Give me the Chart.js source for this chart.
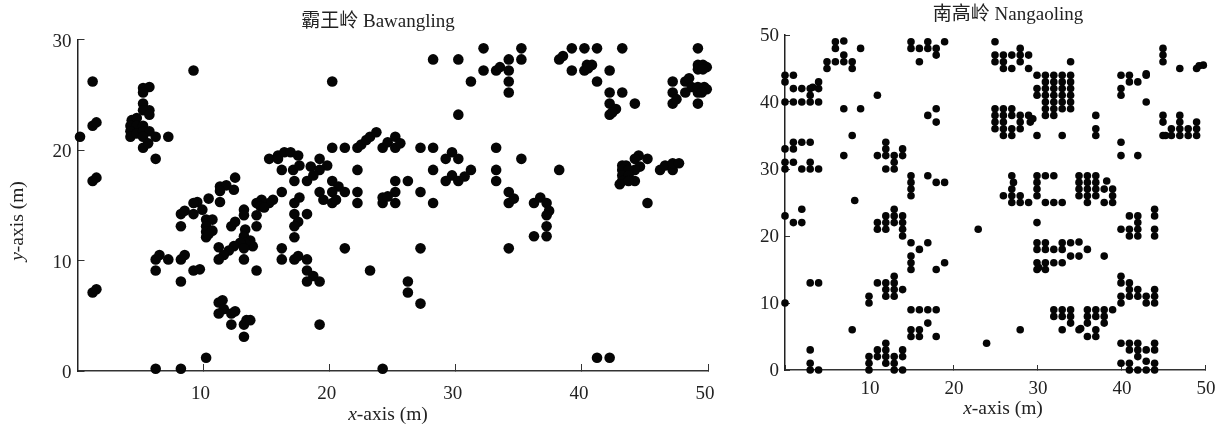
<!DOCTYPE html>
<html>
<head>
<meta charset="utf-8">
<script src="https://cdn.jsdelivr.net/npm/chart.js@4"></script>
<style>
    html, body { margin: 0; padding: 0; background: #fff; overflow: hidden; width: 1224px; height: 428px; }
    canvas { position: absolute; top: 0; }
    #grafico1 { left: 0; }
    #grafico2 { left: 740px; }
</style>
</head>
<body>
<canvas id="grafico1" width="756" height="428"></canvas>
<canvas id="grafico2" width="536" height="428"></canvas>
<script>
// Values, [x, y] in metres
var bawanglingPts = [
    [0.2,21.2],[1.2,26.2],[1.2,22.2],[1.5,22.5],[1.2,17.2],[1.5,17.5],[1.2,7.1],[1.5,7.4],
    [5.2,25.6],[5.7,25.7],[5.2,25.2],[5.2,24.2],[5.7,23.6],[5.2,23.6],[5.7,23.2],
    [4.3,22.7],[4.7,22.9],[4.2,22.2],[4.7,22.2],[4.2,21.7],[4.2,21.2],[4.7,21.5],[5.2,22.2],
    [5.2,21.7],[5.7,21.7],[5.2,21.2],[6.2,21.2],[7.2,21.2],[5.2,20.2],[5.6,20.6],[6.2,19.2],
    [9.2,27.2],[20.2,26.2],[20.2,20.2],[21.2,20.2],[22.2,20.2],[22.5,20.5],[22.9,20.9],[23.2,21.2],
    [23.7,21.6],[24.2,20.2],[24.6,20.7],[25.2,21.2],[25.2,20.2],[25.6,20.6],[27.2,20.2],[28.2,20.2],
    [29.7,19.8],[29.2,19.2],[30.2,19.2],[28.2,18.2],[31.2,18.2],[29.7,17.7],[29.2,17.2],[30.2,17.2],
    [30.7,17.6],[33.2,20.2],[35.2,19.2],[33.2,18.2],[33.2,17.2],[38.2,18.2],[34.2,16.2],[34.2,15.2],
    [34.6,15.6],[36.2,15.2],[36.7,15.7],[37.2,15.2],[37.4,14.5],[25.2,17.2],[26.2,17.2],[25.2,16.2],
    [27.2,16.2],[28.2,15.2],[24.2,15.2],[24.2,15.7],[24.6,15.8],[25.2,15.2],
    [28.2,28.2],[30.2,28.2],[32.2,29.2],[35.2,29.2],[35.2,28.2],[34.2,28.2],[32.2,27.2],[33.2,27.2],
    [33.5,27.5],[34.2,27.2],[31.2,26.2],[34.2,26.2],[34.2,25.2],[30.2,23.2],
    [38.2,28.2],[38.5,28.5],[39.2,29.2],[40.2,29.2],[41.2,29.2],[43.2,29.2],[39.2,27.2],[40.2,27.2],
    [40.4,27.7],[40.8,27.7],[40.5,27.4],[42.2,27.2],[41.2,26.2],[42.2,25.2],[43.2,25.2],[42.2,24.2],
    [44.2,24.2],[42.7,23.7],[42.2,23.2],[42.4,23.4],
    [49.2,29.2],[47.2,26.2],[47.2,25.2],[47.2,24.2],[47.5,24.6],[48.2,26.2],[48.5,26.5],[48.2,25.2],
    [48.7,25.7],[49.2,25.2],[49.2,24.2],[49.2,25.7],[49.7,25.7],[49.9,25.5],[49.5,25.2],[49.2,27.7],
    [49.6,27.7],[49.9,27.5],[49.2,27.3],[49.6,27.3],
    [45.2,19.2],[44.5,19.5],[44.2,19.2],[44.6,18.5],[43.2,18.6],[43.5,18.6],[43.2,18.2],[44.2,18.2],
    [43.7,18.2],[43.2,17.7],[43.7,17.7],[43.2,17.2],[43,16.9],[44.2,17.2],[43.7,17.2],[45.2,15.2],
    [46.2,18.2],[46.6,18.6],[47.2,18.2],[47.2,18.8],[47.7,18.8],
    [15.2,19.2],[15.9,19.5],[15.9,19.2],[16.4,19.8],[16.9,19.8],[16.2,18.2],[17.5,19.5],[17.1,18.2],[17.6,18.6],
    [18.5,18.5],[19.2,19.2],[19.8,18.6],[19.2,18.2],[18.2,17.2],[18.7,17.7],[17.2,17.2],[22.2,18.2],
    [22.2,16.2],[22.2,15.2],[16.2,16.2],[15.5,15.5],[15.2,15.2],[14.6,15.5],[14.2,15.2],[14.5,14.9],
    [14.8,14.8],[17.2,15.2],[17.6,15.7],[17.2,14.2],[18.2,14.2],[20.2,17.2],[19.2,16.2],[20.7,16.7],
    [21.2,16.2],[20.2,16.2],[19.5,15.5],[20.2,15.2],[20.5,15.5],
    [12.5,17.5],[11.3,16.7],[11.8,16.8],[12.4,16.4],[11.3,16.3],[11.3,15.3],[10.4,15.6],[9.5,15.3],
    [9.2,15.2],[9.2,14.2],[9.9,14.6],[8.2,14.2],[8.5,14.5],[8.2,13.1],
    [13.2,14.6],[13.2,14.1],[14.2,14.1],[12.2,13.1],[12.5,13.5],[14.2,13.1],[17.5,13.5],[17.2,13.1],
    [17.2,12.1],[10.2,13.7],[10.7,13.7],[10.2,13.1],[10.2,12.6],[10.7,12.7],[10.2,12.1],[10.4,12.4],
    [13.3,12.8],[13.2,12.2],[13.7,11.8],[13.9,11.3],[13.3,11.6],[12.9,11.6],[12.4,11.3],[13.2,11.1],
    [11.2,11.2],[12,10.9],[11.6,10.5],[11.2,10.1],[13.2,10.1],[14.2,9.1],[16.2,11.1],[16.2,10.1],
    [17.2,10.1],[17.5,10.4],[18.2,10.1],[18.2,9.1],[18.7,8.6],[18.2,8.1],[19.2,8.1],[21.2,11.1],[23.2,9.1],
    [6.2,10.1],[6.5,10.5],[7.2,10.1],[6.2,9.1],[8.2,10.1],[8.5,10.5],[9.2,9.1],[9.7,9.2],[8.2,8.1],
    [11.2,6.2],[11.5,6.4],[11.6,5.6],[11.2,5.2],[12.2,5.2],[12.5,5.4],[12.2,4.2],[13.2,4.2],[13.4,4.6],
    [13.7,4.6],[13.2,3.1],[19.2,4.2],[10.2,1.2],[6.2,0.2],[8.2,0.2],[24.2,0.2],
    [37.2,14.1],[37.2,13.1],[37.2,12.2],[36.2,12.2],[34.2,11.1],[27.2,11.1],[26.2,8.1],[26.2,7.1],
    [27.2,6.1],[41.2,1.2],[42.2,1.2]
];

var nangaolingPts = [
    [0,44],[1,44],[0,43],[4,43],[1,42],[2,42],[3,42],[4,42],[3.3,42.2],[3,41],[0,40],[1,40],[2,40],[3,40],[4,40],
    [1,34],[2,34],[3,34],[0,33],[1,33],[0,31],[1,31],[3,31],[0,30],[2,30],[3,30],[4,30],[2,24],[0,23],
    [6,49],[7,49.1],[6,48],[9,48],[7,47],[5,46],[6,46],[7,46],[8,46],[5,45],[8,45],
    [7,39],[9,39],[8,35],[7,32],[8.3,25.3],[11,41],
    [12,34],[12,33],[11,32],[12,32],[13,32],[14,33],[14,32],[13,31],[12,30],[13,30],
    [15,49],[15,48],[16,48],[17,49],[17,48],[18,48],[18,47],[19,49],[16,46],[18,39],[17,38],[18,37],
    [15,29],[15,28],[15,27],[15,26],[17,29],[18,28],[19,28],
    [1,22],[2,22],[11,22],[11,21],[12,23],[12,22],[12,21],[13,24],[13,23],[13,22],[14,23],[14,22],[14,21],[14,20],
    [15,19],[16,18],[17,19],[15,17],[15,16],[15,15],[18,15],[19,16],[23,21],
    [3,13],[4,13],[11,13],[12,13],[12,12],[12,11],[13,14],[13,13],[13,12],[13,11],[14,12],[10,11],[10,10],[0,10],[8,6],
    [15,9],[16,9],[17,9],[18,9],[15,6],[15,5],[16,6],[16,5],[17,7],[18,5],
    [3,3],[3,1],[3,0],[4,0],[12,4],[11,3],[12,3],[14,3],[10,2],[11,2],[12,2],[13,2],[14,2],[10,1],[12,1],[13,1],[10,0],[13,0],[14,0],
    [25,49],[25,47],[25,46],[26,47],[26,46],[26,45],[27,47],[27,45],[28,48],[28,47],[28,46],[29,47],[29,45],[34,46],
    [30,44],[31,44],[32,44],[33,44],[34,44],[31,43],[32,43],[33,43],[34,43],[30,42],[31,42],[32,42],[33,42],[34,42],
    [30,41],[31,41],[32,41],[33,41],[34,41],[31,40],[32,40],[33,40],[34,40],[31,39],[32,39],[33,39],[34,39],[31,38],[32,38],
    [25,39],[25,38],[25,37],[25,36],[26,39],[26,38],[26,37],[26,36],[26,35],[27,39],[27,38],[27,36],[27,35],
    [28,38],[28,37],[28,36],[29,38],[29.2,37],[29.5,37.5],[30,35],[33,35],[37,38],[37,36],[37,35],[40,34],[40,32],[42,32],
    [45,48],[45,47],[45,46],[47,45],[49,45],[49.3,45.4],[49.8,45.5],
    [40,44],[41,44],[43,44.2],[43,44],[41,43],[42,43],[40,42],[40,41],[43,40],
    [45,38],[45,37],[47,38],[47,37],[45,35],[45.3,35],[46,36],[46,35],[47,36],[47,35],[48,36],[48,35],[49,37],[49,36],[49,35],
    [27,29],[27.2,28],[27,27],[26,26],[27,26],[28,26],[27,25],[28,25],[29,25],
    [30,29],[31,29],[32,29],[30,28],[30,27],[30,26],[31,25],[32,25],[33,25],
    [35,29],[35,28],[35,27],[35,26],[36,29],[36,28],[36,27],[36,26],[37,29],[37,28],[37,27],[37,26],
    [38.3,28.2],[38,27],[39,27],[39,26],[39,25],[36,25],[38,25],
    [30,22],[30,19],[31,19],[30,18],[31,18],[32,18],[33,19],[33,18],[34,19],[35,19.1],[36,18],[34,17],[35,17],[38,17],
    [30,16],[31,16],[32,16],[33,16],[30,15],[31,15],[30.2,15.3],
    [41,23],[42,23],[44,24],[44,23],[42,22],[42,21],[41,21],[41,20],[42,20],[40,21],[44,21],[44,20],
    [40,14],[40,13],[41,13],[41,12],[42,12],[40,11],[41,11],[42,11],[43,11],[44,12],[44,11],[40,10],[43,10],[44,10],
    [32,9],[32,8],[33,9],[33,8],[34,9],[34,8],[34,7],[33,6],[28,6],[36,9],[37,9],[38,9],[39,9],[36,8],[37,8],[38,8],
    [36,7],[38,7],[37,6],[36,5],[37,5],[35.2,6.2],[35,6],[24,4],
    [40,4],[41,4],[42,4],[44,4],[41,3],[42,3],[43,3],[44,3],[42,2],[40,1],[41,1],[43,1.3],[44,1],[41,0],[42,0],[43,0],[44,0]
];

var xTicks = [0, 10, 20, 30, 40, 50];
var yTicksBawangling = [0, 10, 20, 30];
var yTicksNangaoling = [0, 10, 20, 30, 40, 50];

var FONT = '"Liberation Serif", "Noto Sans CJK SC", serif';

// Titles sit off the axis centre and axis labels have an italic first letter, so they are drawn here
var testiGrafico = {
    id: 'testiGrafico',
    afterDraw: function(chart, args, opts) {
        var ctx = chart.ctx;
        ctx.save();
        ctx.fillStyle = '#222';
        ctx.textBaseline = 'middle';
        ctx.textAlign = 'center';
        ctx.font = '19px ' + FONT;
        ctx.fillText(opts.titolo, opts.titoloPos[0], opts.titoloPos[1]);
        scriviEtichetta(ctx, 'x', '-axis (m)', opts.xPos[0], opts.xPos[1], 0);
        if (opts.yPos) {
            scriviEtichetta(ctx, 'y', '-axis (m)', opts.yPos[0], opts.yPos[1], -Math.PI / 2);
        }
        ctx.restore();
    }
};

function scriviEtichetta(ctx, lettera, resto, cx, cy, angolo) {
    ctx.save();
    ctx.translate(cx, cy);
    ctx.rotate(angolo);
    ctx.font = 'italic 19.5px ' + FONT;
    var l1 = ctx.measureText(lettera).width;
    ctx.font = '19.5px ' + FONT;
    var l2 = ctx.measureText(resto).width;
    ctx.textAlign = 'left';
    ctx.font = 'italic 19.5px ' + FONT;
    ctx.fillText(lettera, -(l1 + l2) / 2, 0);
    ctx.font = '19.5px ' + FONT;
    ctx.fillText(resto, -(l1 + l2) / 2 + l1, 0);
    ctx.restore();
}

function creaGrafico(id, titolo, punti, cfg) {
    var ctx = document.getElementById(id).getContext('2d');
    return new Chart(ctx, {
        type: 'scatter',
        data: {
            datasets: [{
                data: punti.map(function(p) { return { x: p[0], y: p[1] }; }),
                backgroundColor: '#050505',
                borderWidth: 0,
                pointRadius: cfg.raggio,
                clip: false
            }]
        },
        plugins: [testiGrafico],
        options: {
            responsive: false,
            animation: false,
            layout: { autoPadding: false, padding: { top: cfg.paddingTop, right: cfg.paddingRight } },
            plugins: {
                legend: { display: false },
                tooltip: { enabled: false },
                testiGrafico: { titolo: titolo, titoloPos: cfg.titoloPos, xPos: cfg.xPos, yPos: cfg.yPos }
            },
            scales: {
                x: {
                    type: 'linear',
                    min: 0,
                    max: 50,
                    afterBuildTicks: function(scale) {
                        scale.ticks = xTicks.map(function(v) { return { value: v }; });
                    },
                    afterFit: function(scale) { scale.height = cfg.altezzaX; },
                    border: { color: '#333', width: 1.5 },
                    grid: { drawOnChartArea: false, color: '#333', lineWidth: 1, tickLength: -cfg.tacca },
                    ticks: {
                        color: '#222',
                        padding: cfg.paddingX,
                        labelOffset: cfg.offsetX,
                        maxRotation: 0,
                        font: { family: FONT, size: 19 },
                        callback: function(v) { return v === 0 ? '' : v; }
                    }
                },
                y: {
                    type: 'linear',
                    min: 0,
                    max: cfg.yTicks[cfg.yTicks.length - 1],
                    afterBuildTicks: function(scale) {
                        scale.ticks = cfg.yTicks.map(function(v) { return { value: v }; });
                    },
                    afterFit: function(scale) { scale.width = cfg.larghezzaY; },
                    border: { color: '#222', width: 1.5 },
                    grid: { drawOnChartArea: false, color: '#333', lineWidth: 1, tickLength: -cfg.tacca },
                    ticks: {
                        color: '#222',
                        padding: cfg.tacca + 6,
                        labelOffset: cfg.offsetY,
                        font: { family: FONT, size: 19 }
                    }
                }
            }
        }
    });
}

creaGrafico('grafico1', '霸王岭 Bawangling', bawanglingPts, {
    raggio: 5.3,
    yTicks: yTicksBawangling,
    larghezzaY: 77.5,
    altezzaX: 57,
    paddingTop: 39.5,
    paddingRight: 48,
    paddingX: 19,
    offsetX: -3,
    offsetY: 2.5,
    tacca: 7,
    titoloPos: [378, 22],
    xPos: [388, 415],
    yPos: [18, 221]
});

creaGrafico('grafico2', '南高岭 Nangaoling', nangaolingPts, {
    raggio: 3.8,
    yTicks: yTicksNangaoling,
    larghezzaY: 45,
    altezzaX: 58,
    paddingTop: 35,
    paddingRight: 71,
    paddingX: 13,
    offsetX: 1,
    offsetY: 1,
    tacca: 5,
    titoloPos: [268, 15],
    xPos: [263, 409],
    yPos: null
});
</script>
</body>
</html>
